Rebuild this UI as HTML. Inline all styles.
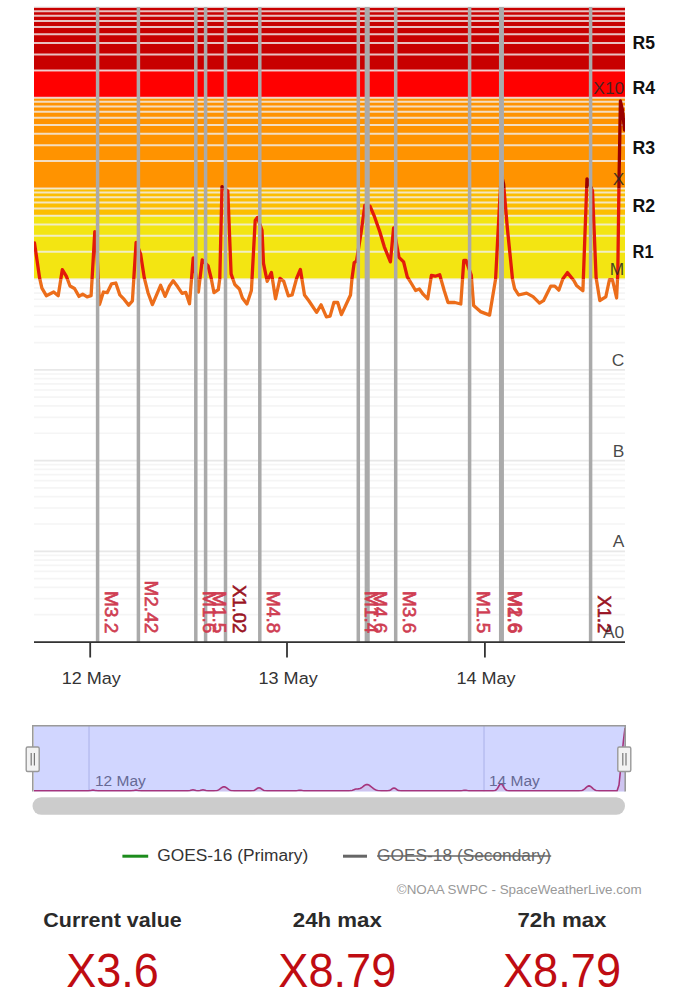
<!DOCTYPE html><html><head><meta charset="utf-8"><title>X-ray flux</title><style>
html,body{margin:0;padding:0;background:#fff;width:674px;height:996px;overflow:hidden}
svg{display:block}text{font-family:"Liberation Sans", Arial, sans-serif}
</style></head><body>
<svg width="674" height="996" viewBox="0 0 674 996">
<defs>
<clipPath id="cp"><rect x="34" y="7.0" width="591" height="635.0"/></clipPath>
<clipPath id="zlow"><rect x="34" y="279.14" width="591" height="362.86"/></clipPath>
<clipPath id="zmid"><rect x="34" y="188.43" width="591" height="90.71"/></clipPath>
<clipPath id="zhi"><rect x="34" y="7.0" width="591" height="181.43"/></clipPath>
<clipPath id="ncp"><rect x="34" y="725.8" width="591" height="65.80000000000007"/></clipPath>
</defs>
<rect x="34" y="7" width="591" height="63.41" fill="#c80000"/>
<rect x="34" y="70.41" width="591" height="27.31" fill="#ff0000"/>
<rect x="34" y="97.71" width="591" height="90.71" fill="#ff9300"/>
<rect x="34" y="188.43" width="591" height="27.31" fill="#fcbe00"/>
<rect x="34" y="215.74" width="591" height="63.41" fill="#f3e512"/>
<g stroke-width="2" stroke-opacity="0.8">
<line x1="34" x2="625" y1="279.14" y2="279.14" stroke="#f0f0f0"/>
<line x1="34" x2="625" y1="251.84" y2="251.84" stroke="#f0f0f0"/>
<line x1="34" x2="625" y1="235.86" y2="235.86" stroke="#f0f0f0"/>
<line x1="34" x2="625" y1="224.53" y2="224.53" stroke="#f0f0f0"/>
<line x1="34" x2="625" y1="215.74" y2="215.74" stroke="#f0f0f0"/>
<line x1="34" x2="625" y1="208.55" y2="208.55" stroke="#f0f0f0"/>
<line x1="34" x2="625" y1="202.48" y2="202.48" stroke="#f0f0f0"/>
<line x1="34" x2="625" y1="197.22" y2="197.22" stroke="#f0f0f0"/>
<line x1="34" x2="625" y1="192.58" y2="192.58" stroke="#f0f0f0"/>
<line x1="34" x2="625" y1="188.43" y2="188.43" stroke="#f0f0f0"/>
<line x1="34" x2="625" y1="161.12" y2="161.12" stroke="#f0f0f0"/>
<line x1="34" x2="625" y1="145.15" y2="145.15" stroke="#f0f0f0"/>
<line x1="34" x2="625" y1="133.81" y2="133.81" stroke="#f0f0f0"/>
<line x1="34" x2="625" y1="125.02" y2="125.02" stroke="#f0f0f0"/>
<line x1="34" x2="625" y1="117.84" y2="117.84" stroke="#f0f0f0"/>
<line x1="34" x2="625" y1="111.77" y2="111.77" stroke="#f0f0f0"/>
<line x1="34" x2="625" y1="106.51" y2="106.51" stroke="#f0f0f0"/>
<line x1="34" x2="625" y1="101.87" y2="101.87" stroke="#f0f0f0"/>
<line x1="34" x2="625" y1="97.71" y2="97.71" stroke="#f0f0f0"/>
<line x1="34" x2="625" y1="70.41" y2="70.41" stroke="#f0f0f0"/>
<line x1="34" x2="625" y1="54.43" y2="54.43" stroke="#f0f0f0"/>
<line x1="34" x2="625" y1="43.1" y2="43.1" stroke="#f0f0f0"/>
<line x1="34" x2="625" y1="34.31" y2="34.31" stroke="#f0f0f0"/>
<line x1="34" x2="625" y1="27.12" y2="27.12" stroke="#f0f0f0"/>
<line x1="34" x2="625" y1="21.05" y2="21.05" stroke="#f0f0f0"/>
<line x1="34" x2="625" y1="15.79" y2="15.79" stroke="#f0f0f0"/>
<line x1="34" x2="625" y1="11.15" y2="11.15" stroke="#f0f0f0"/>
<line x1="34" x2="625" y1="7" y2="7" stroke="#f0f0f0"/>
</g>
<g stroke-width="1.7">
<line x1="34" x2="625" y1="642" y2="642" stroke="#e8e8e8"/>
<line x1="34" x2="625" y1="614.69" y2="614.69" stroke="#f5f5f5"/>
<line x1="34" x2="625" y1="598.72" y2="598.72" stroke="#f5f5f5"/>
<line x1="34" x2="625" y1="587.38" y2="587.38" stroke="#f5f5f5"/>
<line x1="34" x2="625" y1="578.59" y2="578.59" stroke="#f5f5f5"/>
<line x1="34" x2="625" y1="571.41" y2="571.41" stroke="#f5f5f5"/>
<line x1="34" x2="625" y1="565.34" y2="565.34" stroke="#f5f5f5"/>
<line x1="34" x2="625" y1="560.08" y2="560.08" stroke="#f5f5f5"/>
<line x1="34" x2="625" y1="555.44" y2="555.44" stroke="#f5f5f5"/>
<line x1="34" x2="625" y1="551.29" y2="551.29" stroke="#e8e8e8"/>
<line x1="34" x2="625" y1="523.98" y2="523.98" stroke="#f5f5f5"/>
<line x1="34" x2="625" y1="508" y2="508" stroke="#f5f5f5"/>
<line x1="34" x2="625" y1="496.67" y2="496.67" stroke="#f5f5f5"/>
<line x1="34" x2="625" y1="487.88" y2="487.88" stroke="#f5f5f5"/>
<line x1="34" x2="625" y1="480.7" y2="480.7" stroke="#f5f5f5"/>
<line x1="34" x2="625" y1="474.62" y2="474.62" stroke="#f5f5f5"/>
<line x1="34" x2="625" y1="469.36" y2="469.36" stroke="#f5f5f5"/>
<line x1="34" x2="625" y1="464.72" y2="464.72" stroke="#f5f5f5"/>
<line x1="34" x2="625" y1="460.57" y2="460.57" stroke="#e8e8e8"/>
<line x1="34" x2="625" y1="433.26" y2="433.26" stroke="#f5f5f5"/>
<line x1="34" x2="625" y1="417.29" y2="417.29" stroke="#f5f5f5"/>
<line x1="34" x2="625" y1="405.96" y2="405.96" stroke="#f5f5f5"/>
<line x1="34" x2="625" y1="397.16" y2="397.16" stroke="#f5f5f5"/>
<line x1="34" x2="625" y1="389.98" y2="389.98" stroke="#f5f5f5"/>
<line x1="34" x2="625" y1="383.91" y2="383.91" stroke="#f5f5f5"/>
<line x1="34" x2="625" y1="378.65" y2="378.65" stroke="#f5f5f5"/>
<line x1="34" x2="625" y1="374.01" y2="374.01" stroke="#f5f5f5"/>
<line x1="34" x2="625" y1="369.86" y2="369.86" stroke="#e8e8e8"/>
<line x1="34" x2="625" y1="342.55" y2="342.55" stroke="#f5f5f5"/>
<line x1="34" x2="625" y1="326.58" y2="326.58" stroke="#f5f5f5"/>
<line x1="34" x2="625" y1="315.24" y2="315.24" stroke="#f5f5f5"/>
<line x1="34" x2="625" y1="306.45" y2="306.45" stroke="#f5f5f5"/>
<line x1="34" x2="625" y1="299.27" y2="299.27" stroke="#f5f5f5"/>
<line x1="34" x2="625" y1="293.19" y2="293.19" stroke="#f5f5f5"/>
<line x1="34" x2="625" y1="287.93" y2="287.93" stroke="#f5f5f5"/>
<line x1="34" x2="625" y1="283.29" y2="283.29" stroke="#f5f5f5"/>
</g>
<polyline clip-path="url(#zlow)" points="34.5,243 39.6,277.9 41.9,288.2 46.3,295.7 53.7,292 58.2,295.7 62.3,269.7 66.4,276.4 70,286 74.5,288.5 79,296.4 82.7,294.2 87.1,296.9 91.1,295.7 94.8,231.6 96.6,245 99.5,304.6 103.4,292 107.2,292.7 111.6,283.8 115.8,283 119.8,294.9 124.2,299.4 128.7,305.3 132.4,300.9 136.1,242.3 140.6,254.1 144.3,277.9 148,292.7 152.4,304.6 156.9,294.2 160.6,285.3 165.1,296.4 169.5,286 173.2,280.8 177.7,286.8 182.1,293.4 185.8,292.4 189.5,303.8 193.2,257.8 198.4,292 202.2,260 208.1,266 211.1,277.9 214,292.7 218.3,289.7 219.8,278.4 222,186.6 227.8,191.1 231.1,273.9 234.8,284.5 239.4,289 242.4,298 246.9,304 251.4,290.5 255.2,220.5 257.4,217.4 262,230.2 263.5,263.4 267.2,281.4 271.4,272.4 275.5,298.8 280,278.4 283.8,281.4 288.3,295.8 292.1,295 296.6,278.4 300.4,269.4 304.5,295 309,301 316.6,312.3 321.1,304.8 326.4,316.8 330.1,316.1 333.9,302.5 337.7,302.5 341.4,314.6 350.5,295 352,278.4 354.2,262.6 356.5,261.1 361,233.3 364.8,205.4 370,206.1 374.5,216.7 379.8,231.7 384.3,246.8 390.4,261.9 393.6,228 399,257.3 403.6,261.9 407.3,276.9 411.1,283 415.6,290.5 419.4,289 423.1,294.2 427.7,298.8 431.4,275.4 435.2,276.2 439.7,274.7 444.2,290.5 448,302.5 454.8,302.5 460.8,304 463.8,260.4 466,260.4 471.3,275.4 473.6,305.5 480.4,311.6 489.6,315.1 495.6,279 499.4,206.6 501.3,174 503.6,184 507.3,227.5 512.5,279 514.6,288.6 518.6,295 526.6,293.1 533,296.6 539.5,303.1 543.5,300.7 550.7,286.2 554.8,286.2 558.8,290.2 562.8,279 567.4,272.6 573.8,280.5 576.5,285.4 582.9,290.8 587,178.8 592.5,190.8 596.1,277.6 599.8,300.5 605.8,296.9 609.4,280 612.5,280 616.6,298 617.8,272.8 619,181 620.4,101 622.5,110 624.5,130" stroke="#ec6d1a" fill="none" stroke-width="3.3" stroke-linejoin="round" stroke-linecap="round"/>
<polyline clip-path="url(#zmid)" points="34.5,243 39.6,277.9 41.9,288.2 46.3,295.7 53.7,292 58.2,295.7 62.3,269.7 66.4,276.4 70,286 74.5,288.5 79,296.4 82.7,294.2 87.1,296.9 91.1,295.7 94.8,231.6 96.6,245 99.5,304.6 103.4,292 107.2,292.7 111.6,283.8 115.8,283 119.8,294.9 124.2,299.4 128.7,305.3 132.4,300.9 136.1,242.3 140.6,254.1 144.3,277.9 148,292.7 152.4,304.6 156.9,294.2 160.6,285.3 165.1,296.4 169.5,286 173.2,280.8 177.7,286.8 182.1,293.4 185.8,292.4 189.5,303.8 193.2,257.8 198.4,292 202.2,260 208.1,266 211.1,277.9 214,292.7 218.3,289.7 219.8,278.4 222,186.6 227.8,191.1 231.1,273.9 234.8,284.5 239.4,289 242.4,298 246.9,304 251.4,290.5 255.2,220.5 257.4,217.4 262,230.2 263.5,263.4 267.2,281.4 271.4,272.4 275.5,298.8 280,278.4 283.8,281.4 288.3,295.8 292.1,295 296.6,278.4 300.4,269.4 304.5,295 309,301 316.6,312.3 321.1,304.8 326.4,316.8 330.1,316.1 333.9,302.5 337.7,302.5 341.4,314.6 350.5,295 352,278.4 354.2,262.6 356.5,261.1 361,233.3 364.8,205.4 370,206.1 374.5,216.7 379.8,231.7 384.3,246.8 390.4,261.9 393.6,228 399,257.3 403.6,261.9 407.3,276.9 411.1,283 415.6,290.5 419.4,289 423.1,294.2 427.7,298.8 431.4,275.4 435.2,276.2 439.7,274.7 444.2,290.5 448,302.5 454.8,302.5 460.8,304 463.8,260.4 466,260.4 471.3,275.4 473.6,305.5 480.4,311.6 489.6,315.1 495.6,279 499.4,206.6 501.3,174 503.6,184 507.3,227.5 512.5,279 514.6,288.6 518.6,295 526.6,293.1 533,296.6 539.5,303.1 543.5,300.7 550.7,286.2 554.8,286.2 558.8,290.2 562.8,279 567.4,272.6 573.8,280.5 576.5,285.4 582.9,290.8 587,178.8 592.5,190.8 596.1,277.6 599.8,300.5 605.8,296.9 609.4,280 612.5,280 616.6,298 617.8,272.8 619,181 620.4,101 622.5,110 624.5,130" stroke="#e31a0a" fill="none" stroke-width="3.3" stroke-linejoin="round" stroke-linecap="round"/>
<polyline clip-path="url(#zhi)" points="34.5,243 39.6,277.9 41.9,288.2 46.3,295.7 53.7,292 58.2,295.7 62.3,269.7 66.4,276.4 70,286 74.5,288.5 79,296.4 82.7,294.2 87.1,296.9 91.1,295.7 94.8,231.6 96.6,245 99.5,304.6 103.4,292 107.2,292.7 111.6,283.8 115.8,283 119.8,294.9 124.2,299.4 128.7,305.3 132.4,300.9 136.1,242.3 140.6,254.1 144.3,277.9 148,292.7 152.4,304.6 156.9,294.2 160.6,285.3 165.1,296.4 169.5,286 173.2,280.8 177.7,286.8 182.1,293.4 185.8,292.4 189.5,303.8 193.2,257.8 198.4,292 202.2,260 208.1,266 211.1,277.9 214,292.7 218.3,289.7 219.8,278.4 222,186.6 227.8,191.1 231.1,273.9 234.8,284.5 239.4,289 242.4,298 246.9,304 251.4,290.5 255.2,220.5 257.4,217.4 262,230.2 263.5,263.4 267.2,281.4 271.4,272.4 275.5,298.8 280,278.4 283.8,281.4 288.3,295.8 292.1,295 296.6,278.4 300.4,269.4 304.5,295 309,301 316.6,312.3 321.1,304.8 326.4,316.8 330.1,316.1 333.9,302.5 337.7,302.5 341.4,314.6 350.5,295 352,278.4 354.2,262.6 356.5,261.1 361,233.3 364.8,205.4 370,206.1 374.5,216.7 379.8,231.7 384.3,246.8 390.4,261.9 393.6,228 399,257.3 403.6,261.9 407.3,276.9 411.1,283 415.6,290.5 419.4,289 423.1,294.2 427.7,298.8 431.4,275.4 435.2,276.2 439.7,274.7 444.2,290.5 448,302.5 454.8,302.5 460.8,304 463.8,260.4 466,260.4 471.3,275.4 473.6,305.5 480.4,311.6 489.6,315.1 495.6,279 499.4,206.6 501.3,174 503.6,184 507.3,227.5 512.5,279 514.6,288.6 518.6,295 526.6,293.1 533,296.6 539.5,303.1 543.5,300.7 550.7,286.2 554.8,286.2 558.8,290.2 562.8,279 567.4,272.6 573.8,280.5 576.5,285.4 582.9,290.8 587,178.8 592.5,190.8 596.1,277.6 599.8,300.5 605.8,296.9 609.4,280 612.5,280 616.6,298 617.8,272.8 619,181 620.4,101 622.5,110 624.5,130" stroke="#9a0000" fill="none" stroke-width="3.3" stroke-linejoin="round" stroke-linecap="round"/>
<g stroke="#aaaaaa" stroke-width="3.5">
<line x1="97.6" x2="97.6" y1="7.0" y2="642.0"/>
<line x1="138.4" x2="138.4" y1="7.0" y2="642.0"/>
<line x1="195.8" x2="195.8" y1="7.0" y2="642.0"/>
<line x1="205.6" x2="205.6" y1="7.0" y2="642.0"/>
<line x1="225.5" x2="225.5" y1="7.0" y2="642.0"/>
<line x1="259.8" x2="259.8" y1="7.0" y2="642.0"/>
<line x1="358.3" x2="358.3" y1="7.0" y2="642.0"/>
<line x1="366.4" x2="366.4" y1="7.0" y2="642.0"/>
<line x1="368.0" x2="368.0" y1="7.0" y2="642.0"/>
<line x1="395.7" x2="395.7" y1="7.0" y2="642.0"/>
<line x1="469.6" x2="469.6" y1="7.0" y2="642.0"/>
<line x1="500.7" x2="500.7" y1="7.0" y2="642.0"/>
<line x1="502.2" x2="502.2" y1="7.0" y2="642.0"/>
<line x1="590.6" x2="590.6" y1="7.0" y2="642.0"/>
</g>
<text transform="translate(104.6,633.3) rotate(90)" text-anchor="end" font-size="18.4" fill="#cf3d52" stroke="#cf3d52" stroke-width="0.6" textLength="42.36" lengthAdjust="spacingAndGlyphs">M3.2</text>
<text transform="translate(145.4,633.3) rotate(90)" text-anchor="end" font-size="18.4" fill="#cf3d52" stroke="#cf3d52" stroke-width="0.6" textLength="52.89" lengthAdjust="spacingAndGlyphs">M2.42</text>
<text transform="translate(202.8,633.3) rotate(90)" text-anchor="end" font-size="18.4" fill="#cf3d52" stroke="#cf3d52" stroke-width="0.6" textLength="42.36" lengthAdjust="spacingAndGlyphs">M1.6</text>
<text transform="translate(212.6,633.3) rotate(90)" text-anchor="end" font-size="18.4" fill="#cf3d52" stroke="#cf3d52" stroke-width="0.6" textLength="42.36" lengthAdjust="spacingAndGlyphs">M1.5</text>
<text transform="translate(232.5,633.3) rotate(90)" text-anchor="end" font-size="18.4" fill="#9a1424" stroke="#9a1424" stroke-width="0.6" textLength="48.3" lengthAdjust="spacingAndGlyphs">X1.02</text>
<text transform="translate(266.8,633.3) rotate(90)" text-anchor="end" font-size="18.4" fill="#cf3d52" stroke="#cf3d52" stroke-width="0.6" textLength="42.36" lengthAdjust="spacingAndGlyphs">M4.8</text>
<text transform="translate(365.3,633.3) rotate(90)" text-anchor="end" font-size="18.4" fill="#cf3d52" stroke="#cf3d52" stroke-width="0.6" textLength="42.36" lengthAdjust="spacingAndGlyphs">M1.4</text>
<text transform="translate(374.2,633.3) rotate(90)" text-anchor="end" font-size="18.4" fill="#cf3d52" stroke="#cf3d52" stroke-width="0.6" textLength="42.36" lengthAdjust="spacingAndGlyphs">M4.6</text>
<text transform="translate(402.7,633.3) rotate(90)" text-anchor="end" font-size="18.4" fill="#cf3d52" stroke="#cf3d52" stroke-width="0.6" textLength="42.36" lengthAdjust="spacingAndGlyphs">M3.6</text>
<text transform="translate(476.6,633.3) rotate(90)" text-anchor="end" font-size="18.4" fill="#cf3d52" stroke="#cf3d52" stroke-width="0.6" textLength="42.36" lengthAdjust="spacingAndGlyphs">M1.5</text>
<text transform="translate(507.7,633.3) rotate(90)" text-anchor="end" font-size="18.4" fill="#cf3d52" stroke="#cf3d52" stroke-width="0.6" textLength="42.36" lengthAdjust="spacingAndGlyphs">M1.6</text>
<text transform="translate(509.2,633.3) rotate(90)" text-anchor="end" font-size="18.4" fill="#cf3d52" stroke="#cf3d52" stroke-width="0.6" textLength="42.36" lengthAdjust="spacingAndGlyphs">M2.6</text>
<text transform="translate(597.6,633.3) rotate(90)" text-anchor="end" font-size="18.4" fill="#9a1424" stroke="#9a1424" stroke-width="0.6" textLength="37.76" lengthAdjust="spacingAndGlyphs">X1.2</text>
<g font-size="17.4" fill="rgba(40,40,40,0.85)" text-anchor="end">
<text x="624.3" y="93.81">X10</text>
<text x="624.3" y="184.53">X</text>
<text x="624.3" y="275.24">M</text>
<text x="624.3" y="365.96">C</text>
<text x="624.3" y="456.67">B</text>
<text x="624.3" y="547.39">A</text>
<text x="624.3" y="638.1">A0</text>
</g>
<line x1="34" x2="625" y1="642.2" y2="642.2" stroke="#333" stroke-width="1.8"/>
<line x1="90.2" x2="90.2" y1="642" y2="657.5" stroke="#333" stroke-width="1.8"/>
<text x="91.3" y="683.8" font-size="17.4" fill="#333" text-anchor="middle" textLength="59.2" lengthAdjust="spacingAndGlyphs">12 May</text>
<line x1="287.0" x2="287.0" y1="642" y2="657.5" stroke="#333" stroke-width="1.8"/>
<text x="288.1" y="683.8" font-size="17.4" fill="#333" text-anchor="middle" textLength="59.2" lengthAdjust="spacingAndGlyphs">13 May</text>
<line x1="484.9" x2="484.9" y1="642" y2="657.5" stroke="#333" stroke-width="1.8"/>
<text x="486.0" y="683.8" font-size="17.4" fill="#333" text-anchor="middle" textLength="59.2" lengthAdjust="spacingAndGlyphs">14 May</text>
<text x="632.6" y="48.7" font-size="17.6" font-weight="bold" fill="#111" textLength="22.4" lengthAdjust="spacingAndGlyphs">R5</text>
<text x="632.6" y="94.0" font-size="17.6" font-weight="bold" fill="#111" textLength="22.6" lengthAdjust="spacingAndGlyphs">R4</text>
<text x="632.6" y="153.6" font-size="17.6" font-weight="bold" fill="#111" textLength="22.6" lengthAdjust="spacingAndGlyphs">R3</text>
<text x="632.6" y="212.1" font-size="17.6" font-weight="bold" fill="#111" textLength="22.6" lengthAdjust="spacingAndGlyphs">R2</text>
<text x="632.6" y="258.4" font-size="17.6" font-weight="bold" fill="#111" textLength="21" lengthAdjust="spacingAndGlyphs">R1</text>
<rect x="34" y="725.8" width="591" height="65.80000000000007" fill="#ffffff"/>
<g clip-path="url(#ncp)">
<line x1="89" x2="89" y1="725.8" y2="791.6" stroke="#c8cae0" stroke-width="1"/>
<line x1="484" x2="484" y1="725.8" y2="791.6" stroke="#c8cae0" stroke-width="1"/>
<polygon points="34,790.9 35,790.9 36,790.9 37,790.9 38,790.9 39,790.9 40,790.9 41,790.9 42,790.9 43,790.9 44,790.9 45,790.9 46,790.9 47,790.9 48,790.9 49,790.9 50,790.9 51,790.9 52,790.9 53,790.9 54,790.9 55,790.9 56,790.9 57,790.9 58,790.9 59,790.9 60,790.9 61,790.9 62,790.9 63,790.9 64,790.9 65,790.9 66,790.9 67,790.9 68,790.9 69,790.9 70,790.9 71,790.9 72,790.9 73,790.9 74,790.9 75,790.9 76,790.9 77,790.9 78,790.9 79,790.9 80,790.9 81,790.9 82,790.9 83,790.9 84,790.9 85,790.9 86,790.9 87,790.89 88,790.87 89,790.81 90,790.66 91,790.43 92,790.2 93,790.1 94,790.2 95,790.43 96,790.66 97,790.81 98,790.87 99,790.89 100,790.9 101,790.9 102,790.9 103,790.9 104,790.9 105,790.9 106,790.9 107,790.9 108,790.9 109,790.9 110,790.9 111,790.9 112,790.9 113,790.9 114,790.9 115,790.9 116,790.9 117,790.9 118,790.9 119,790.9 120,790.9 121,790.9 122,790.9 123,790.9 124,790.9 125,790.9 126,790.9 127,790.9 128,790.9 129,790.9 130,790.89 131,790.87 132,790.81 133,790.66 134,790.43 135,790.2 136,790.1 137,790.2 138,790.43 139,790.66 140,790.81 141,790.87 142,790.89 143,790.9 144,790.9 145,790.9 146,790.9 147,790.9 148,790.9 149,790.9 150,790.9 151,790.9 152,790.9 153,790.9 154,790.9 155,790.9 156,790.9 157,790.9 158,790.9 159,790.9 160,790.9 161,790.9 162,790.9 163,790.9 164,790.9 165,790.9 166,790.9 167,790.9 168,790.9 169,790.9 170,790.9 171,790.9 172,790.9 173,790.9 174,790.9 175,790.9 176,790.9 177,790.9 178,790.9 179,790.9 180,790.9 181,790.9 182,790.9 183,790.9 184,790.9 185,790.9 186,790.9 187,790.89 188,790.86 189,790.78 190,790.6 191,790.31 192,790.02 193,789.9 194,790.02 195,790.31 196,790.6 197,790.77 198,790.83 199,790.77 200,790.6 201,790.31 202,790.02 203,789.9 204,790.02 205,790.31 206,790.6 207,790.78 208,790.86 209,790.89 210,790.9 211,790.9 212,790.9 213,790.89 214,790.87 215,790.81 216,790.71 217,790.5 218,790.15 219,789.63 220,788.95 221,788.17 222,787.43 223,786.9 224,786.7 225,786.9 226,787.43 227,788.17 228,788.95 229,789.63 230,790.15 231,790.5 232,790.71 233,790.81 234,790.87 235,790.89 236,790.9 237,790.9 238,790.9 239,790.9 240,790.9 241,790.9 242,790.9 243,790.9 244,790.9 245,790.9 246,790.9 247,790.9 248,790.9 249,790.9 250,790.89 251,790.87 252,790.82 253,790.68 254,790.41 255,789.94 256,789.27 257,788.53 258,787.93 259,787.7 260,787.93 261,788.53 262,789.27 263,789.94 264,790.41 265,790.68 266,790.82 267,790.87 268,790.89 269,790.9 270,790.9 271,790.9 272,790.9 273,790.9 274,790.9 275,790.9 276,790.9 277,790.9 278,790.9 279,790.9 280,790.9 281,790.9 282,790.9 283,790.9 284,790.9 285,790.9 286,790.9 287,790.9 288,790.9 289,790.9 290,790.9 291,790.9 292,790.9 293,790.9 294,790.9 295,790.88 296,790.83 297,790.72 298,790.55 299,790.37 300,790.3 301,790.37 302,790.55 303,790.72 304,790.83 305,790.88 306,790.9 307,790.9 308,790.9 309,790.9 310,790.9 311,790.9 312,790.9 313,790.9 314,790.9 315,790.9 316,790.9 317,790.9 318,790.9 319,790.9 320,790.9 321,790.9 322,790.9 323,790.9 324,790.9 325,790.9 326,790.9 327,790.9 328,790.9 329,790.9 330,790.9 331,790.9 332,790.9 333,790.9 334,790.9 335,790.9 336,790.9 337,790.9 338,790.9 339,790.9 340,790.9 341,790.9 342,790.9 343,790.9 344,790.9 345,790.9 346,790.9 347,790.9 348,790.89 349,790.86 350,790.79 351,790.66 352,790.42 353,790.08 354,789.69 355,789.32 356,789.07 357,788.96 358,788.91 359,788.8 360,788.52 361,788.02 362,787.33 363,786.54 364,785.75 365,785.09 366,784.65 367,784.5 368,784.65 369,785.1 370,785.77 371,786.57 372,787.43 373,788.25 374,788.97 375,789.56 376,790.02 377,790.35 378,790.57 379,790.71 380,790.8 381,790.85 382,790.87 383,790.89 384,790.89 385,790.9 386,790.89 387,790.88 388,790.81 389,790.65 390,790.3 391,789.7 392,788.94 393,788.27 394,788 395,788.27 396,788.94 397,789.7 398,790.3 399,790.65 400,790.81 401,790.88 402,790.89 403,790.9 404,790.9 405,790.9 406,790.9 407,790.9 408,790.9 409,790.9 410,790.9 411,790.9 412,790.9 413,790.9 414,790.9 415,790.9 416,790.9 417,790.9 418,790.9 419,790.9 420,790.9 421,790.9 422,790.9 423,790.9 424,790.9 425,790.9 426,790.9 427,790.9 428,790.9 429,790.9 430,790.9 431,790.9 432,790.9 433,790.9 434,790.9 435,790.9 436,790.9 437,790.9 438,790.9 439,790.9 440,790.9 441,790.9 442,790.9 443,790.9 444,790.9 445,790.9 446,790.9 447,790.9 448,790.9 449,790.9 450,790.9 451,790.9 452,790.9 453,790.9 454,790.9 455,790.9 456,790.9 457,790.9 458,790.9 459,790.9 460,790.88 461,790.83 462,790.72 463,790.55 464,790.37 465,790.3 466,790.37 467,790.55 468,790.72 469,790.83 470,790.88 471,790.9 472,790.9 473,790.9 474,790.9 475,790.9 476,790.9 477,790.9 478,790.9 479,790.9 480,790.9 481,790.9 482,790.9 483,790.9 484,790.9 485,790.9 486,790.9 487,790.9 488,790.9 489,790.9 490,790.9 491,790.9 492,790.89 493,790.86 494,790.78 495,790.54 496,790 497,789 498,787.49 499,785.74 500,784.27 501,783.7 502,784.27 503,785.74 504,787.49 505,789 506,790 507,790.54 508,790.78 509,790.86 510,790.89 511,790.9 512,790.9 513,790.9 514,790.9 515,790.9 516,790.9 517,790.9 518,790.9 519,790.9 520,790.9 521,790.9 522,790.9 523,790.9 524,790.9 525,790.9 526,790.9 527,790.9 528,790.9 529,790.9 530,790.9 531,790.9 532,790.9 533,790.9 534,790.9 535,790.9 536,790.9 537,790.9 538,790.9 539,790.9 540,790.9 541,790.9 542,790.9 543,790.9 544,790.9 545,790.9 546,790.9 547,790.9 548,790.9 549,790.9 550,790.9 551,790.9 552,790.9 553,790.9 554,790.9 555,790.9 556,790.9 557,790.9 558,790.9 559,790.9 560,790.9 561,790.9 562,790.9 563,790.9 564,790.9 565,790.9 566,790.9 567,790.9 568,790.9 569,790.9 570,790.9 571,790.9 572,790.9 573,790.9 574,790.9 575,790.9 576,790.9 577,790.9 578,790.88 579,790.86 580,790.8 581,790.67 582,790.42 583,790.01 584,789.39 585,788.58 586,787.65 587,786.77 588,786.13 589,785.9 590,786.13 591,786.77 592,787.65 593,788.58 594,789.39 595,790.01 596,790.42 597,790.67 598,790.8 599,790.86 600,790.88 601,790.9 602,790.9 603,790.9 604,790.9 605,790.9 606,790.9 607,790.9 608,790.9 609,790.9 610,790.9 611,790.9 612,790.9 613,790.9 614,790.9 615,790.9 616,790.9 617,790.9 619,785 620.5,770 622,755 623.5,740 625,728 625,791.6 34,791.6" fill="rgba(220,40,80,0.12)"/>
<polyline points="34,790.9 35,790.9 36,790.9 37,790.9 38,790.9 39,790.9 40,790.9 41,790.9 42,790.9 43,790.9 44,790.9 45,790.9 46,790.9 47,790.9 48,790.9 49,790.9 50,790.9 51,790.9 52,790.9 53,790.9 54,790.9 55,790.9 56,790.9 57,790.9 58,790.9 59,790.9 60,790.9 61,790.9 62,790.9 63,790.9 64,790.9 65,790.9 66,790.9 67,790.9 68,790.9 69,790.9 70,790.9 71,790.9 72,790.9 73,790.9 74,790.9 75,790.9 76,790.9 77,790.9 78,790.9 79,790.9 80,790.9 81,790.9 82,790.9 83,790.9 84,790.9 85,790.9 86,790.9 87,790.89 88,790.87 89,790.81 90,790.66 91,790.43 92,790.2 93,790.1 94,790.2 95,790.43 96,790.66 97,790.81 98,790.87 99,790.89 100,790.9 101,790.9 102,790.9 103,790.9 104,790.9 105,790.9 106,790.9 107,790.9 108,790.9 109,790.9 110,790.9 111,790.9 112,790.9 113,790.9 114,790.9 115,790.9 116,790.9 117,790.9 118,790.9 119,790.9 120,790.9 121,790.9 122,790.9 123,790.9 124,790.9 125,790.9 126,790.9 127,790.9 128,790.9 129,790.9 130,790.89 131,790.87 132,790.81 133,790.66 134,790.43 135,790.2 136,790.1 137,790.2 138,790.43 139,790.66 140,790.81 141,790.87 142,790.89 143,790.9 144,790.9 145,790.9 146,790.9 147,790.9 148,790.9 149,790.9 150,790.9 151,790.9 152,790.9 153,790.9 154,790.9 155,790.9 156,790.9 157,790.9 158,790.9 159,790.9 160,790.9 161,790.9 162,790.9 163,790.9 164,790.9 165,790.9 166,790.9 167,790.9 168,790.9 169,790.9 170,790.9 171,790.9 172,790.9 173,790.9 174,790.9 175,790.9 176,790.9 177,790.9 178,790.9 179,790.9 180,790.9 181,790.9 182,790.9 183,790.9 184,790.9 185,790.9 186,790.9 187,790.89 188,790.86 189,790.78 190,790.6 191,790.31 192,790.02 193,789.9 194,790.02 195,790.31 196,790.6 197,790.77 198,790.83 199,790.77 200,790.6 201,790.31 202,790.02 203,789.9 204,790.02 205,790.31 206,790.6 207,790.78 208,790.86 209,790.89 210,790.9 211,790.9 212,790.9 213,790.89 214,790.87 215,790.81 216,790.71 217,790.5 218,790.15 219,789.63 220,788.95 221,788.17 222,787.43 223,786.9 224,786.7 225,786.9 226,787.43 227,788.17 228,788.95 229,789.63 230,790.15 231,790.5 232,790.71 233,790.81 234,790.87 235,790.89 236,790.9 237,790.9 238,790.9 239,790.9 240,790.9 241,790.9 242,790.9 243,790.9 244,790.9 245,790.9 246,790.9 247,790.9 248,790.9 249,790.9 250,790.89 251,790.87 252,790.82 253,790.68 254,790.41 255,789.94 256,789.27 257,788.53 258,787.93 259,787.7 260,787.93 261,788.53 262,789.27 263,789.94 264,790.41 265,790.68 266,790.82 267,790.87 268,790.89 269,790.9 270,790.9 271,790.9 272,790.9 273,790.9 274,790.9 275,790.9 276,790.9 277,790.9 278,790.9 279,790.9 280,790.9 281,790.9 282,790.9 283,790.9 284,790.9 285,790.9 286,790.9 287,790.9 288,790.9 289,790.9 290,790.9 291,790.9 292,790.9 293,790.9 294,790.9 295,790.88 296,790.83 297,790.72 298,790.55 299,790.37 300,790.3 301,790.37 302,790.55 303,790.72 304,790.83 305,790.88 306,790.9 307,790.9 308,790.9 309,790.9 310,790.9 311,790.9 312,790.9 313,790.9 314,790.9 315,790.9 316,790.9 317,790.9 318,790.9 319,790.9 320,790.9 321,790.9 322,790.9 323,790.9 324,790.9 325,790.9 326,790.9 327,790.9 328,790.9 329,790.9 330,790.9 331,790.9 332,790.9 333,790.9 334,790.9 335,790.9 336,790.9 337,790.9 338,790.9 339,790.9 340,790.9 341,790.9 342,790.9 343,790.9 344,790.9 345,790.9 346,790.9 347,790.9 348,790.89 349,790.86 350,790.79 351,790.66 352,790.42 353,790.08 354,789.69 355,789.32 356,789.07 357,788.96 358,788.91 359,788.8 360,788.52 361,788.02 362,787.33 363,786.54 364,785.75 365,785.09 366,784.65 367,784.5 368,784.65 369,785.1 370,785.77 371,786.57 372,787.43 373,788.25 374,788.97 375,789.56 376,790.02 377,790.35 378,790.57 379,790.71 380,790.8 381,790.85 382,790.87 383,790.89 384,790.89 385,790.9 386,790.89 387,790.88 388,790.81 389,790.65 390,790.3 391,789.7 392,788.94 393,788.27 394,788 395,788.27 396,788.94 397,789.7 398,790.3 399,790.65 400,790.81 401,790.88 402,790.89 403,790.9 404,790.9 405,790.9 406,790.9 407,790.9 408,790.9 409,790.9 410,790.9 411,790.9 412,790.9 413,790.9 414,790.9 415,790.9 416,790.9 417,790.9 418,790.9 419,790.9 420,790.9 421,790.9 422,790.9 423,790.9 424,790.9 425,790.9 426,790.9 427,790.9 428,790.9 429,790.9 430,790.9 431,790.9 432,790.9 433,790.9 434,790.9 435,790.9 436,790.9 437,790.9 438,790.9 439,790.9 440,790.9 441,790.9 442,790.9 443,790.9 444,790.9 445,790.9 446,790.9 447,790.9 448,790.9 449,790.9 450,790.9 451,790.9 452,790.9 453,790.9 454,790.9 455,790.9 456,790.9 457,790.9 458,790.9 459,790.9 460,790.88 461,790.83 462,790.72 463,790.55 464,790.37 465,790.3 466,790.37 467,790.55 468,790.72 469,790.83 470,790.88 471,790.9 472,790.9 473,790.9 474,790.9 475,790.9 476,790.9 477,790.9 478,790.9 479,790.9 480,790.9 481,790.9 482,790.9 483,790.9 484,790.9 485,790.9 486,790.9 487,790.9 488,790.9 489,790.9 490,790.9 491,790.9 492,790.89 493,790.86 494,790.78 495,790.54 496,790 497,789 498,787.49 499,785.74 500,784.27 501,783.7 502,784.27 503,785.74 504,787.49 505,789 506,790 507,790.54 508,790.78 509,790.86 510,790.89 511,790.9 512,790.9 513,790.9 514,790.9 515,790.9 516,790.9 517,790.9 518,790.9 519,790.9 520,790.9 521,790.9 522,790.9 523,790.9 524,790.9 525,790.9 526,790.9 527,790.9 528,790.9 529,790.9 530,790.9 531,790.9 532,790.9 533,790.9 534,790.9 535,790.9 536,790.9 537,790.9 538,790.9 539,790.9 540,790.9 541,790.9 542,790.9 543,790.9 544,790.9 545,790.9 546,790.9 547,790.9 548,790.9 549,790.9 550,790.9 551,790.9 552,790.9 553,790.9 554,790.9 555,790.9 556,790.9 557,790.9 558,790.9 559,790.9 560,790.9 561,790.9 562,790.9 563,790.9 564,790.9 565,790.9 566,790.9 567,790.9 568,790.9 569,790.9 570,790.9 571,790.9 572,790.9 573,790.9 574,790.9 575,790.9 576,790.9 577,790.9 578,790.88 579,790.86 580,790.8 581,790.67 582,790.42 583,790.01 584,789.39 585,788.58 586,787.65 587,786.77 588,786.13 589,785.9 590,786.13 591,786.77 592,787.65 593,788.58 594,789.39 595,790.01 596,790.42 597,790.67 598,790.8 599,790.86 600,790.88 601,790.9 602,790.9 603,790.9 604,790.9 605,790.9 606,790.9 607,790.9 608,790.9 609,790.9 610,790.9 611,790.9 612,790.9 613,790.9 614,790.9 615,790.9 616,790.9 617,790.9 619,785 620.5,770 622,755 623.5,740 625,728" fill="none" stroke="#c01845" stroke-width="1.6" stroke-linejoin="round"/>
</g>
<rect x="34" y="725.8" width="591" height="65.80000000000007" fill="rgba(102,120,255,0.3)"/>
<text x="95" y="786" font-size="15.5" fill="#666a95">12 May</text>
<text x="489" y="786" font-size="15.5" fill="#666a95">14 May</text>
<path d="M32.8,791.6 V725.8 H625.2 V791.6" fill="none" stroke="#9a9a9a" stroke-width="1.6"/>
<rect x="26.2" y="747" width="13" height="24.5" rx="1.5" fill="#f2f2f2" stroke="#999" stroke-width="1.4"/>
<line x1="31.2" x2="31.2" y1="753" y2="765.5" stroke="#777" stroke-width="1.2"/>
<line x1="34.4" x2="34.4" y1="753" y2="765.5" stroke="#777" stroke-width="1.2"/>
<rect x="617.8" y="747" width="13" height="24.5" rx="1.5" fill="#f2f2f2" stroke="#999" stroke-width="1.4"/>
<line x1="622.8" x2="622.8" y1="753" y2="765.5" stroke="#777" stroke-width="1.2"/>
<line x1="626.0" x2="626.0" y1="753" y2="765.5" stroke="#777" stroke-width="1.2"/>
<rect x="32.5" y="797.2" width="592.5" height="17.5" rx="8.75" fill="#cccccc"/>
<line x1="122.4" x2="148.2" y1="856.2" y2="856.2" stroke="#1c8c1c" stroke-width="3"/>
<text x="157.3" y="861.2" font-size="17.3" fill="#333" textLength="151" lengthAdjust="spacingAndGlyphs">GOES-16 (Primary)</text>
<line x1="343" x2="367" y1="856.2" y2="856.2" stroke="#666" stroke-width="3"/>
<text x="377.1" y="861.2" font-size="17.3" fill="#666" textLength="174" lengthAdjust="spacingAndGlyphs">GOES-18 (Secondary)</text>
<line x1="377.1" x2="551.2" y1="856" y2="856" stroke="#666" stroke-width="1.5"/>
<text x="641.6" y="894" font-size="13.4" fill="#999" text-anchor="end">©NOAA SWPC - SpaceWeatherLive.com</text>
<text x="112.5" y="926.8" font-size="20.4" font-weight="bold" fill="#2a2a2a" text-anchor="middle" textLength="138.4" lengthAdjust="spacingAndGlyphs">Current value</text>
<text x="112.5" y="986.8" font-size="48.5" fill="#bf0c12" text-anchor="middle" textLength="92.6" lengthAdjust="spacingAndGlyphs">X3.6</text>
<text x="337.3" y="926.8" font-size="20.4" font-weight="bold" fill="#2a2a2a" text-anchor="middle" textLength="89.0" lengthAdjust="spacingAndGlyphs">24h max</text>
<text x="337.3" y="986.8" font-size="48.5" fill="#bf0c12" text-anchor="middle" textLength="118.0" lengthAdjust="spacingAndGlyphs">X8.79</text>
<text x="562" y="926.8" font-size="20.4" font-weight="bold" fill="#2a2a2a" text-anchor="middle" textLength="89.0" lengthAdjust="spacingAndGlyphs">72h max</text>
<text x="562" y="986.8" font-size="48.5" fill="#bf0c12" text-anchor="middle" textLength="118.0" lengthAdjust="spacingAndGlyphs">X8.79</text>
</svg></body></html>
